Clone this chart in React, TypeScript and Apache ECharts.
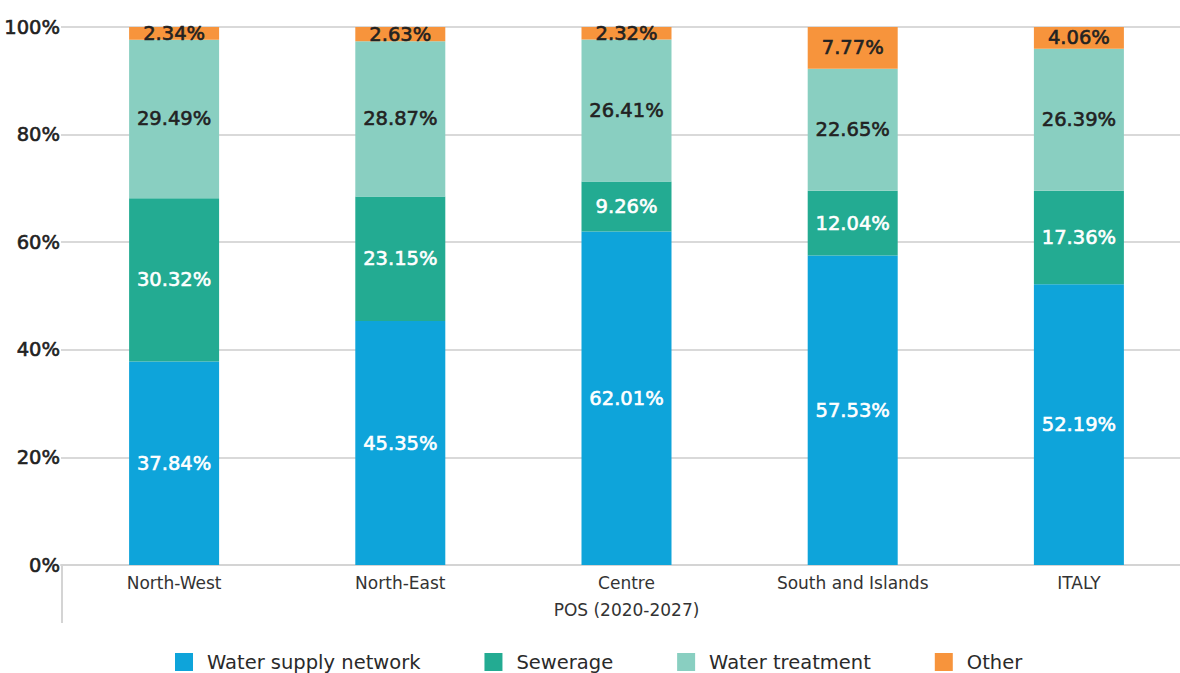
import React, { useEffect, useRef } from "react";
import * as echarts from "echarts";

const categories = ["North-West", "North-East", "Centre", "South and Islands", "ITALY"];
const waterSupply = [37.84, 45.35, 62.01, 57.53, 52.19];
const sewerage = [30.32, 23.15, 9.26, 12.04, 17.36];
const waterTreatment = [29.49, 28.87, 26.41, 22.65, 26.39];
const other = [2.34, 2.63, 2.32, 7.77, 4.06];
const seriesNames = ["Water supply network", "Sewerage", "Water treatment", "Other"];
const colors = ["#0ea4da", "#23ab92", "#89cfc1", "#f7943c"];
const labelColors = ["#ffffff", "#ffffff", "#222222", "#222222"];

const FONT = "DejaVu Sans";

export default function App() {
  const ref = useRef<HTMLDivElement>(null);
  useEffect(() => {
    document.body.style.margin = "0";
    document.body.style.overflow = "hidden";
    document.documentElement.style.overflow = "hidden";
    const chart = echarts.init(ref.current!, null, { renderer: "svg" });
    const data = [waterSupply, sewerage, waterTreatment, other];
    chart.setOption({
      animation: false,
      textStyle: { fontFamily: FONT },
      grid: { left: 61, right: 0, top: 27, bottom: 108 },
      legend: {
        top: 652,
        left: 175,
        padding: 0,
        itemWidth: 18,
        itemHeight: 18,
        itemGap: 64,
        icon: "rect",
        textStyle: { fontSize: 19.5, color: "#2a2a2a", fontFamily: FONT, padding: [0, 0, 0, 9] },
        data: seriesNames,
      },
      xAxis: {
        type: "category",
        data: categories,
        name: "POS (2020-2027)",
        nameLocation: "middle",
        nameGap: 36,
        nameTextStyle: { fontSize: 17, color: "#333", fontFamily: FONT },
        axisLine: { show: true, lineStyle: { color: "#d4d4d4", width: 2 } },
        axisTick: { show: false },
        axisLabel: { fontSize: 17, color: "#333", margin: 9, fontFamily: FONT },
      },
      yAxis: {
        type: "value",
        min: 0,
        max: 100,
        interval: 20,
        axisLabel: {
          formatter: "{value}%",
          fontSize: 19.5,
          color: "#222",
          textBorderColor: "#222",
          textBorderWidth: 0.6,
          margin: 1,
          fontFamily: FONT,
        },
        axisLine: { show: false },
        axisTick: { show: false },
        splitLine: { lineStyle: { color: "#d9d9d9", width: 2 } },
      },
      graphic: [
        {
          type: "line",
          shape: { x1: 62, y1: 565, x2: 62, y2: 623 },
          style: { stroke: "#d4d4d4", lineWidth: 2 },
        },
      ],
      series: seriesNames.map((name, i) => ({
        name,
        type: "bar",
        stack: "total",
        barWidth: 90,
        data: data[i],
        itemStyle: { color: colors[i] },
        label: {
          show: true,
          position: "inside",
          formatter: (p: any) => p.value.toFixed(2) + "%",
          color: labelColors[i],
          textBorderColor: labelColors[i],
          textBorderWidth: 0.6,
          fontSize: 19.5,
          fontFamily: FONT,
        },
      })),
    });
    return () => chart.dispose();
  }, []);
  return <div ref={ref} style={{ width: 1192, height: 673 }} />;
}
